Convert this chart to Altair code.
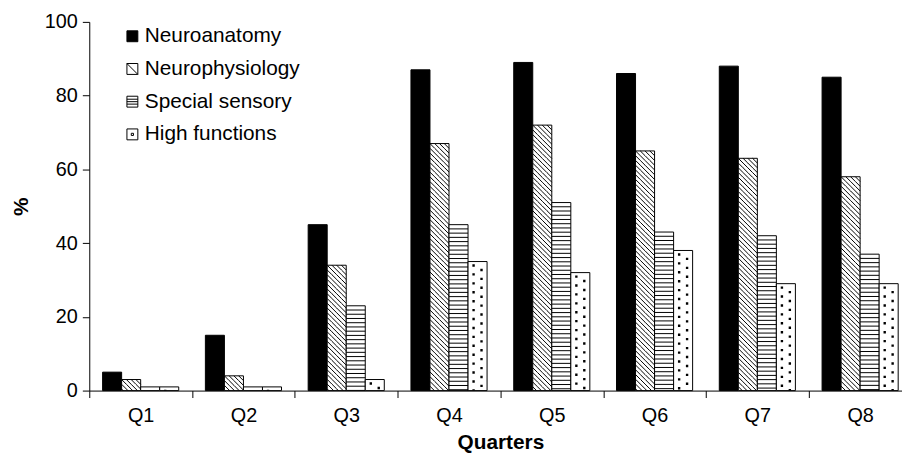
import altair as alt
import pandas as pd

# ---- data ----
quarters = ["Q1", "Q2", "Q3", "Q4", "Q5", "Q6", "Q7", "Q8"]
series = ["Neuroanatomy", "Neurophysiology", "Special sensory", "High functions"]
neuroanatomy = [5, 15, 45, 87, 89, 86, 88, 85]
neurophysiology = [3, 4, 34, 67, 72, 65, 63, 58]
special_sensory = [1, 1, 23, 45, 51, 43, 42, 37]
high_functions = [1, 1, 3, 35, 32, 38, 29, 29]

rows = []
for i, q in enumerate(quarters):
    for s, vals in zip(series, [neuroanatomy, neurophysiology, special_sensory, high_functions]):
        rows.append({"Quarter": q, "Series": s, "Value": vals[i]})
df = pd.DataFrame(rows)

# ---- layout / style constants ----
FONT = "Liberation Sans"
STEP = 103.7                 # band step of a quarter (reference is cropped at the right)
W, H = STEP * 8, 372
BW = 19.2                    # bar width
PO = (STEP / BW - 4) / 2     # outer padding of offset scale
PX = 100.0 / H               # data units per pixel
SIZE = BW * BW

HS = BW / 4                  # hatch strip height (px)
SS = 4.27                    # stripe spacing (px)
DS = 9.0                     # dot period (px)

u = BW / 2.0  # pixels per path unit
hatch_path = " ".join(
    f"M{-1 + 0.5 * k:.3f},-0.25L{-0.5 + 0.5 * k:.3f},0.25" for k in range(4)
)
def sq(cx, cy, d=2.4):
    x0, y0, s = (cx - d / 2) / u, (cy - d / 2) / u, d / u
    return f"M{x0:.3f},{y0:.3f}h{s:.3f}v{s:.3f}h{-s:.3f}Z"
dots_path = sq(-4, -2.25) + " " + sq(4, 2.25)
stripe_path = "M-1,0L1,0"

legend_shapes = [
    "square",
    "M-1,-1H1V1H-1Z M-1,-1L1,1",
    "M-1,-1H1V1H-1Z M-1,-0.45H1 M-1,0H1 M-1,0.45H1",
    "M-1,-1H1V1H-1Z M-0.2,-0.2H0.2V0.2H-0.2Z",
]
fills = ["black", "white", "white", "white"]

x_scale = alt.Scale(domain=quarters, paddingInner=0, paddingOuter=0)
xo_scale = alt.Scale(domain=series, paddingInner=0, paddingOuter=PO)
y_scale = alt.Scale(domain=[0, 100])
fill_scale = alt.Scale(domain=series, range=fills)
shape_scale = alt.Scale(domain=series, range=legend_shapes)

x_axis = alt.Axis(
    title="Quarters", labelAngle=0, tickBand="extent", tickSize=7,
    labelPadding=8, titlePadding=6, grid=False,
)
y_axis = alt.Axis(
    title="%", values=[0, 20, 40, 60, 80, 100], tickSize=7, labelPadding=5,
    titlePadding=13, grid=False,
)

legend = alt.Legend(
    title=None, orient="none", legendX=33, legendY=4, padding=0,
    symbolSize=121, symbolStrokeWidth=1, symbolStrokeColor="black",
    labelFont=FONT, labelFontSize=21, labelColor="black", labelOffset=2,
    rowPadding=11,
)

base = alt.Chart(df)

X = alt.X("Quarter:N", sort=quarters, scale=x_scale, axis=x_axis)
XO = alt.XOffset("Series:N", sort=series, scale=xo_scale)

bars = base.mark_bar(stroke="black", strokeWidth=1).encode(
    x=X,
    xOffset=XO,
    y=alt.Y("Value:Q", scale=y_scale, axis=y_axis),
    fill=alt.Fill("Series:N", sort=series, scale=fill_scale, legend=legend),
)

# layer with no rows that only supplies the legend's symbol shapes
legend_layer = (
    base.transform_filter("false")
    .mark_point(filled=True, stroke="black", strokeWidth=1, opacity=1)
    .encode(
        x=X,
        y=alt.Y("Value:Q", scale=y_scale, axis=y_axis),
        fill=alt.Fill("Series:N", sort=series, scale=fill_scale, legend=legend),
        shape=alt.Shape("Series:N", sort=series, scale=shape_scale, legend=legend),
    )
)

def pattern(name, expr, path, filled):
    mk = dict(shape=path, size=SIZE, opacity=1, clip=True)
    if filled:
        mk.update(filled=True, color="black", strokeWidth=0)
    else:
        mk.update(filled=False, color="black", strokeWidth=1)
    return (
        base.transform_filter(alt.datum.Series == name)
        .transform_calculate(r=expr)
        .transform_flatten(["r"])
        .mark_point(**mk)
        .encode(
            x=X,
            xOffset=XO,
            y=alt.Y("r:Q", scale=y_scale, axis=y_axis),
        )
    )

hatch = pattern(
    "Neurophysiology",
    f"sequence(datum.Value - {HS / 2 * PX}, {-HS / 2 * PX}, {-HS * PX})",
    hatch_path, False,
)
stripes = pattern(
    "Special sensory",
    f"sequence(datum.Value - {SS * PX}, 0, {-SS * PX})",
    stripe_path, False,
)
dots = pattern(
    "High functions",
    f"sequence(datum.Value - {6.25 * PX}, {-DS / 2 * PX}, {-DS * PX})",
    dots_path, True,
)

chart = (
    alt.layer(bars, hatch, stripes, dots, legend_layer)
    .properties(
        width=W, height=H,
        autosize=alt.AutoSizeParams(type="none"),
        padding={"left": 82, "top": 12, "right": 902 - 82 - W, "bottom": 65},
        background="white",
    )
    .configure_view(strokeWidth=0)
    .configure_axis(
        labelFont=FONT, titleFont=FONT, labelFontSize=20, titleFontSize=21,
        titleFontWeight="bold", labelColor="black", titleColor="black",
        domainColor="black", tickColor="black", domainWidth=1, tickWidth=1,
    )
)

chart.save("out.html", embed_options={"renderer": "svg", "actions": False})
